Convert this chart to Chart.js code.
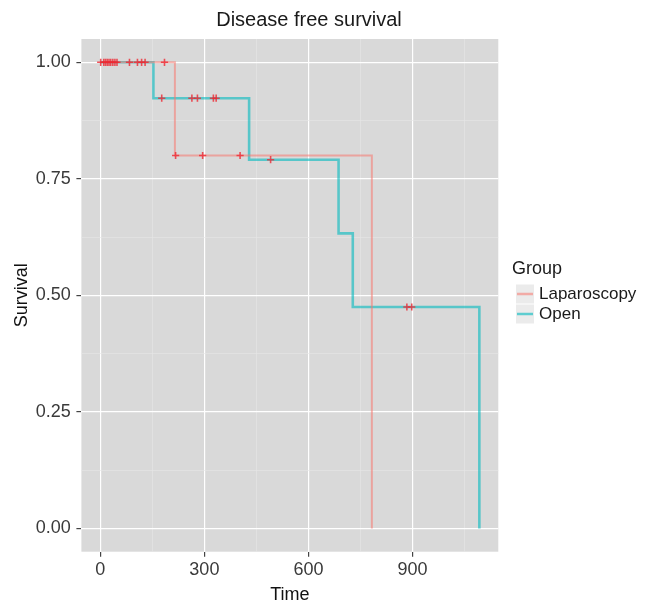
<!DOCTYPE html>
<html><head><meta charset="utf-8">
<script src="https://cdn.jsdelivr.net/npm/chart.js@4"></script>
<style>html,body{margin:0;padding:0;background:#fff;}#wrap{width:649px;height:604px;}</style>
</head><body><div id="wrap"><canvas id="c" width="649" height="604"></canvas></div>
<script>
// ---- data ----
const groups = ['Laparoscopy', 'Open'];
const lapTimes = [0, 215, 783];
const lapSurv  = [1, 0.8, 0];
const openTimes = [0, 153, 429, 687, 728, 1093];
const openSurv  = [1, 0.923, 0.791, 0.633, 0.475, 0];
const lapCensorTimes  = [1, 15, 25, 36, 48, 107, 129, 185, 217, 295, 403];
const openCensorTimes = [10, 20, 30, 42, 84, 119, 177, 264, 280, 326, 334, 491, 884, 898];
const xTickLabels = [0, 300, 600, 900];
const yTickLabels = [0, 0.25, 0.5, 0.75, 1];
const chartTitle = 'Disease free survival';
const xTitle = 'Time';
const yTitle = 'Survival';
const legendTitle = 'Group';

const FONT = '"Liberation Sans", Arial, Helvetica, sans-serif';
const lapColor = 'rgba(248,118,109,0.55)';
const openColor = 'rgba(0,185,190,0.6)';
const censorColor = 'rgba(238,40,50,0.8)';

function stepAt(times, surv, t) {
  let v = surv[0];
  for (let i = 0; i < times.length; i++) if (times[i] <= t) v = surv[i];
  return v;
}
const toPts = (ts, ss) => ts.map((t, i) => ({x: t, y: ss[i]}));
const censorPts = lapCensorTimes.map(t => ({x: t, y: stepAt(lapTimes, lapSurv, t)}))
  .concat(openCensorTimes.map(t => ({x: t, y: stepAt(openTimes, openSurv, t)})));

const xMaxData = Math.max(...lapTimes, ...openTimes);
const xMin = -0.05 * xMaxData, xMax = 1.05 * xMaxData;
const yMin = -0.05, yMax = 1.05;

// majors from the tick label arrays, minors halfway between them
function withMinors(labels, lo, hi) {
  const step = labels[1] - labels[0];
  const out = [];
  for (let k = -4; k <= labels.length + 4; k++) {
    const v = labels[0] + k * step / 2;
    if (v >= lo && v <= hi) out.push({value: Math.round(v * 1e6) / 1e6});
  }
  return out;
}
const isMajor = (labels, v) => labels.some(l => Math.abs(l - v) < 1e-6);

const bgPlugin = {
  id: 'bg',
  beforeDraw(chart) {
    const {ctx, chartArea: a} = chart;
    ctx.save();
    ctx.fillStyle = '#ffffff';
    ctx.fillRect(0, 0, chart.width, chart.height);
    ctx.fillStyle = '#D9D9D9';
    ctx.fillRect(a.left, a.top, a.right - a.left, a.bottom - a.top);
    ctx.restore();
  },
  afterDraw(chart) {
    const {ctx} = chart;
    ctx.save();
    ctx.fillStyle = '#1a1a1a';
    ctx.textAlign = 'center';
    ctx.textBaseline = 'alphabetic';
    ctx.font = '20px ' + FONT;
    ctx.fillText(chartTitle, 309, 26);
    // legend
    ctx.textAlign = 'left';
    ctx.textBaseline = 'middle';
    ctx.font = '18px ' + FONT;
    ctx.fillText(legendTitle, 512, 269);
    const cols = [lapColor, openColor];
    const ys = [294, 314];
    ctx.font = '17px ' + FONT;
    for (let i = 0; i < groups.length; i++) {
      ctx.fillStyle = '#EBEBEB';
      ctx.fillRect(516, ys[i] - 9.5, 18, 19);
      ctx.strokeStyle = cols[i];
      ctx.lineWidth = 2.5;
      ctx.beginPath();
      ctx.moveTo(517, ys[i]);
      ctx.lineTo(533, ys[i]);
      ctx.stroke();
      ctx.fillStyle = '#1a1a1a';
      ctx.fillText(groups[i], 539, ys[i]);
    }
    ctx.restore();
  }
};

new Chart(document.getElementById('c'), {
  type: 'line',
  data: {
    datasets: [
      {label: 'censor', data: censorPts, showLine: false, pointStyle: 'cross',
       pointRadius: 3.6, pointBorderWidth: 1.6, pointBorderColor: censorColor,
       pointBackgroundColor: censorColor, order: 0},
      {label: groups[0], data: toPts(lapTimes, lapSurv), stepped: 'before',
       borderColor: lapColor, borderWidth: 2, pointRadius: 0, fill: false, order: 1},
      {label: groups[1], data: toPts(openTimes, openSurv), stepped: 'before',
       borderColor: openColor, borderWidth: 2.6, pointRadius: 0, fill: false, order: 2}
    ]
  },
  options: {
    responsive: false,
    animation: false,
    events: [],
    layout: {padding: {top: 39, right: 649 - 498.3, bottom: 0, left: 0}},
    plugins: {legend: {display: false}, tooltip: {enabled: false}, title: {display: false}},
    scales: {
      x: {
        type: 'linear', min: xMin, max: xMax,
        afterBuildTicks(s) { s.ticks = withMinors(xTickLabels, xMin, xMax); },
        afterFit(s) { s.height = 52.3; },
        border: {display: false},
        grid: {
          color: c => isMajor(xTickLabels, c.tick.value) ? '#FFFFFF' : '#E6E6E6',
          lineWidth: c => isMajor(xTickLabels, c.tick.value) ? 1.2 : 0.6,
          tickColor: c => isMajor(xTickLabels, c.tick.value) ? '#444444' : 'rgba(0,0,0,0)',
          tickLength: 5, tickWidth: 1.2
        },
        ticks: {
          autoSkip: false, maxRotation: 0, minRotation: 0,
          padding: 2.5, color: '#3a3a3a', font: {family: FONT, size: 18},
          callback: v => isMajor(xTickLabels, v) ? String(Math.round(v)) : ''
        },
        title: {display: true, text: xTitle, color: '#111', padding: {top: 0.5, bottom: 0},
                font: {family: FONT, size: 18, lineHeight: 1}}
      },
      y: {
        type: 'linear', min: yMin, max: yMax,
        afterBuildTicks(s) { s.ticks = withMinors(yTickLabels, yMin, yMax); },
        afterFit(s) { s.width = 81.4; },
        border: {display: false},
        grid: {
          color: c => isMajor(yTickLabels, c.tick.value) ? '#FFFFFF' : '#E6E6E6',
          lineWidth: c => isMajor(yTickLabels, c.tick.value) ? 1.2 : 0.6,
          tickColor: c => isMajor(yTickLabels, c.tick.value) ? '#444444' : 'rgba(0,0,0,0)',
          tickLength: 5, tickWidth: 1.2
        },
        ticks: {
          autoSkip: false,
          padding: 5.7, color: '#3a3a3a', font: {family: FONT, size: 18},
          callback: v => isMajor(yTickLabels, v) ? v.toFixed(2) : ''
        },
        title: {display: true, text: yTitle, color: '#111', padding: {top: 13, bottom: 0},
                font: {family: FONT, size: 18, lineHeight: 1}}
      }
    }
  },
  plugins: [bgPlugin]
});
</script></body></html>
